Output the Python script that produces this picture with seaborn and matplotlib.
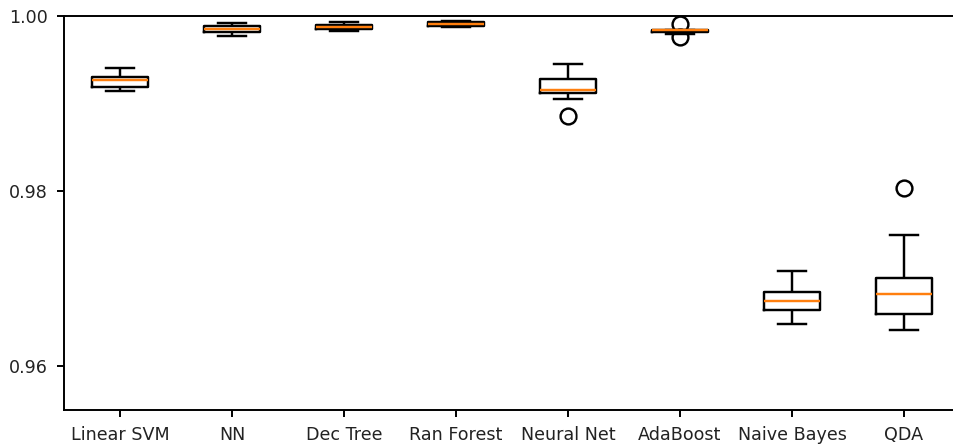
import matplotlib
matplotlib.use('Agg')
import matplotlib.pyplot as plt
import pandas as pd
import seaborn as sns

# -----------------------------
# Scores per classifier
# -----------------------------
models = ["Linear SVM", "NN", "Dec Tree", "Ran Forest",
          "Neural Net", "AdaBoost", "Naive Bayes", "QDA"]

linear_svm = [0.99141, 0.99170, 0.99194, 0.99230, 0.99263, 0.99280, 0.99301, 0.99350, 0.99404]
nn = [0.99774, 0.99800, 0.99813, 0.99830, 0.99851, 0.99870, 0.99889, 0.99900, 0.99916]
dec_tree = [0.99828, 0.99840, 0.99851, 0.99860, 0.99870, 0.99885, 0.99900, 0.99920, 0.99935]
ran_forest = [0.99870, 0.99880, 0.99887, 0.99897, 0.99908, 0.99920, 0.99932, 0.99937, 0.99942]
neural_net = [0.98860, 0.99057, 0.99115, 0.99130, 0.99155, 0.99220, 0.99280, 0.99360, 0.99446]
adaboost = [0.99763, 0.99800, 0.99822, 0.99830, 0.99836, 0.99838, 0.99840, 0.99840, 0.99905]
naive_bayes = [0.96478, 0.96560, 0.96639, 0.96700, 0.96742, 0.96800, 0.96845, 0.96950, 0.97089]
qda = [0.96413, 0.96500, 0.96596, 0.96700, 0.96822, 0.96900, 0.97006, 0.97498, 0.98029]

scores = [linear_svm, nn, dec_tree, ran_forest, neural_net, adaboost, naive_bayes, qda]

yticks = [0.96, 0.98, 1.00]
ytick_labels = ["0.96", "0.98", "1.00"]

# -----------------------------
# Dataframe
# -----------------------------
rows = {"Model": [], "Score": []}
for name, vals in zip(models, scores):
    for v in vals:
        rows["Model"].append(name)
        rows["Score"].append(v)
df = pd.DataFrame(rows)

# -----------------------------
# Plot
# -----------------------------
plt.rcParams["font.size"] = 7.2
plt.rcParams["xtick.major.size"] = 3.0
plt.rcParams["ytick.major.size"] = 3.0
plt.rcParams["text.color"] = "#222222"
plt.rcParams["xtick.labelcolor"] = "#222222"
plt.rcParams["ytick.labelcolor"] = "#222222"

fig = plt.figure(figsize=(954 / 175, 445 / 175), dpi=175)
ax = fig.add_axes([0.0671, 0.0793, 0.9392, 0.8847])

sns.boxplot(
    data=df,
    x="Model",
    y="Score",
    order=models,
    width=0.5,
    fill=False,
    color="black",
    linewidth=1.0,
    whis=1.5,
    medianprops={"color": "#ff7f0e"},
    flierprops={"marker": "o", "markersize": 6.5,
                "markerfacecolor": "none", "markeredgecolor": "black"},
    ax=ax,
)

ax.set_xlabel("")
ax.set_ylabel("")
ax.set_xlim(-0.5, len(models) - 0.5)
ax.set_ylim(0.955, 1.0)
ax.set_yticks(yticks)
ax.set_yticklabels(ytick_labels)
ax.spines["right"].set_visible(False)

fig.savefig("out.png", dpi=175)
plt.close(fig)
